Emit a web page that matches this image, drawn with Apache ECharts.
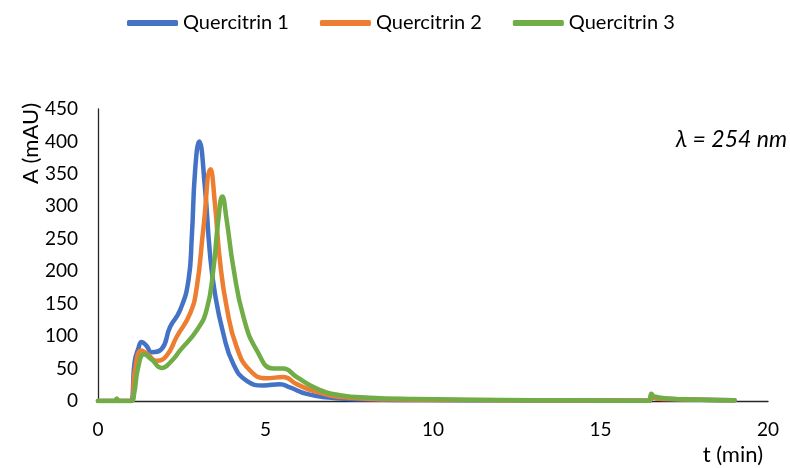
<!DOCTYPE html>
<html>
<head>
<meta charset="utf-8">
<title>Quercitrin chromatogram</title>
<script src="https://cdn.jsdelivr.net/npm/echarts@6/dist/echarts.min.js"></script>
<style>
  html, body { margin: 0; padding: 0; background: #fff; }
  #chart { width: 790px; height: 468px; }
</style>
</head>
<body>
<div id="chart"></div>
<script>
// retention time (min) and absorbance (mAU) for each run
var seriesNames = ['Quercitrin 1', 'Quercitrin 2', 'Quercitrin 3'];
var colors = ['#4472C4', '#ED7D31', '#70AD47'];

var t1 = [0, 0.95, 1.1, 1.2, 1.3, 1.45, 1.6, 1.9, 2.15, 2.45, 2.7, 2.8, 2.9, 3.02, 3.19, 3.34, 3.49, 3.74, 4.04, 4.44,
          4.94, 5.43, 5.73, 6.23, 7.2, 8.5, 10, 12, 14, 16.45, 16.52, 16.6, 17, 19];
var a1 = [0, 0, 62, 80, 91, 85, 75, 80, 114, 140, 186, 253, 356, 400, 330, 228, 166, 104, 57, 31,
          24, 26, 21, 11, 4, 2, 1.5, 1, 0.8, 0.5, 8, 5, 3, 1];

var t2 = [0, 1.0, 1.1, 1.3, 1.5, 1.75, 2.05, 2.35, 2.75, 2.95, 3.14, 3.36, 3.49, 3.64, 3.84, 4.14, 4.54, 5.03, 5.53, 5.93,
          6.53, 7.5, 9, 11, 13, 16.45, 16.52, 16.6, 17, 19];
var a2 = [0, 0, 46, 78, 71, 62, 70, 99, 135, 176, 263, 357, 304, 216, 145, 83, 47, 35, 37, 26,
          14, 5, 2.5, 1.5, 1, 0.5, 8, 5, 3, 1];

var t3 = [0, 0.5, 0.56, 0.62, 1.0, 1.08, 1.2, 1.37, 1.6, 1.9, 2.2, 2.45, 2.95, 3.24, 3.44, 3.59, 3.71, 3.84, 4.04, 4.34,
          4.74, 5.23, 5.53, 5.93, 6.53, 7.22, 8.12, 9.5, 11, 13, 15, 16.45, 16.52, 16.6, 17, 18, 19];
var a3 = [0, 0, 4, 0, 0, 12, 52, 72, 64, 51, 62, 78, 109, 140, 201, 279, 315, 279, 206, 130,
          78, 50, 50, 37, 19, 9, 5, 3, 2, 1.2, 0.8, 0.5, 11, 7, 4, 2, 1];

var xTicks = [0, 5, 10, 15, 20];
var yTicks = [0, 50, 100, 150, 200, 250, 300, 350, 400, 450];

function pairs(t, a) {
    var out = [];
    for (var i = 0; i < t.length; i++) {
        out.push([t[i], a[i]]);
    }
    return out;
}

var allT = [t1, t2, t3];
var allA = [a1, a2, a3];
var series = [];
for (var i = 0; i < seriesNames.length; i++) {
    series.push({
        name: seriesNames[i],
        type: 'line',
        data: pairs(allT[i], allA[i]),
        symbol: 'none',
        smooth: 0.5,
        lineStyle: { width: 4.5, color: colors[i], cap: 'round', join: 'round' },
        itemStyle: { color: colors[i] }
    });
}

var font = 'Lato, "Noto Sans", sans-serif';
var myChart = echarts.init(document.getElementById('chart'), null, { renderer: 'canvas' });

var option = {
    animation: false,
    backgroundColor: '#fff',
    color: colors,
    textStyle: { fontFamily: font },
    legend: {
        top: 8,
        left: 122,
        icon: 'roundRect',
        itemWidth: 51,
        itemHeight: 6,
        itemGap: 31,
        itemStyle: { borderWidth: 0 },
        textStyle: { fontSize: 20, color: '#000', fontFamily: font },
        data: seriesNames
    },
    grid: { left: 98, right: 22, top: 109, bottom: 67 },
    xAxis: {
        type: 'value',
        min: xTicks[0],
        max: xTicks[xTicks.length - 1],
        interval: 5,
        axisLine: { show: true, lineStyle: { color: '#262626', width: 1.3 } },
        axisTick: { show: false },
        splitLine: { show: false },
        axisLabel: { fontSize: 19, color: '#000', margin: 19, fontFamily: font }
    },
    yAxis: {
        type: 'value',
        min: yTicks[0],
        max: yTicks[yTicks.length - 1],
        interval: 50,
        axisLine: { show: true, lineStyle: { color: '#262626', width: 1.3 } },
        axisTick: { show: false },
        splitLine: { show: false },
        axisLabel: { fontSize: 19, color: '#000', margin: 20, fontFamily: font }
    },
    graphic: [
        {
            type: 'text',
            left: 20,
            top: 103,
            rotation: Math.PI / 2,
            style: { text: 'A (mAU)', fontSize: 22, fill: '#000', fontFamily: font }
        },
        {
            type: 'text',
            right: 27,
            top: 444,
            style: { text: 't (min)', fontSize: 22, fill: '#000', fontFamily: font }
        },
        {
            type: 'text',
            right: 3,
            top: 128,
            style: { text: 'λ = 254 nm', fontSize: 23, fontStyle: 'italic', fill: '#000', fontFamily: font }
        }
    ],
    series: series
};

myChart.setOption(option);
</script>
</body>
</html>
